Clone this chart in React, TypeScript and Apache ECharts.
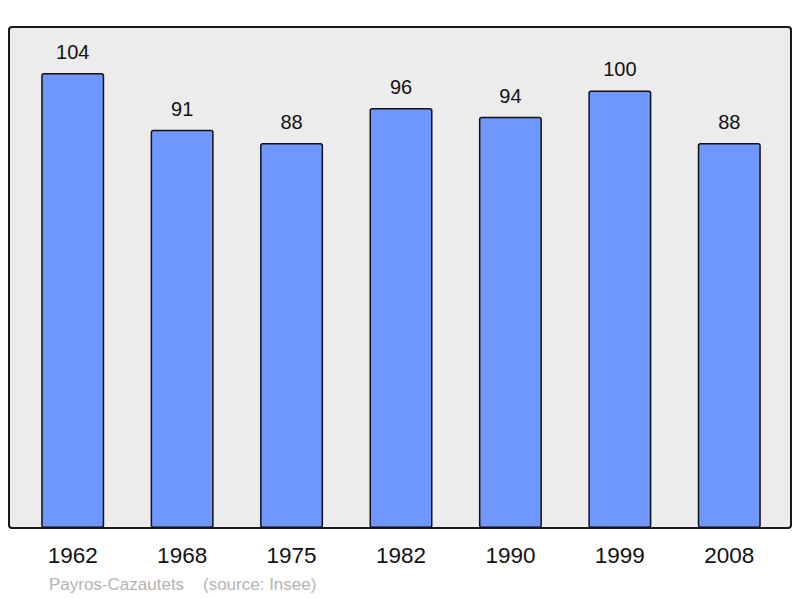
import React, { useEffect, useRef } from "react";
import * as echarts from "echarts";

const years = ["1962", "1968", "1975", "1982", "1990", "1999", "2008"];
const population = [104, 91, 88, 96, 94, 100, 88];
const footerText = "Payros-Cazautets    (source: Insee)";

export default function App() {
  const ref = useRef<HTMLDivElement>(null);
  useEffect(() => {
    if (!ref.current) return;
    const chart = echarts.init(ref.current, null, { renderer: "svg" });
    chart.setOption({
      animation: false,
      backgroundColor: "#ffffff",
      grid: { left: 18, right: 16, top: 27, bottom: 70 },
      xAxis: {
        type: "category",
        data: years,
        axisLine: { show: false },
        axisTick: { show: false },
        axisLabel: {
          fontFamily: "Liberation Sans",
          fontSize: 22.5,
          color: "#111",
          margin: 16,
        },
      },
      yAxis: {
        type: "value",
        min: 0,
        max: 114.5,
        show: false,
        splitLine: { show: false },
      },
      graphic: [
        {
          type: "rect",
          z: -10,
          shape: { x: 9, y: 27, width: 782, height: 501, r: 3 },
          style: { fill: "#ececec", stroke: "#1a1a1a", lineWidth: 2 },
        },
        {
          type: "text",
          x: 49,
          y: 584,
          style: {
            text: footerText,
            fontFamily: "Liberation Sans",
            fontSize: 17,
            fill: "#b4b4b4",
            textVerticalAlign: "middle",
          },
        },
      ],
      series: [
        {
          type: "bar",
          data: population,
          barWidth: 63,
          itemStyle: {
            color: "#7096ff",
            borderColor: "#111",
            borderWidth: 1.5,
            borderRadius: 2,
          },
          label: {
            show: true,
            position: "top",
            distance: 11,
            fontFamily: "Liberation Sans",
            fontSize: 20,
            color: "#111",
          },
        },
      ],
    });
    return () => chart.dispose();
  }, []);
  return (
    <div
      ref={ref}
      style={{ position: "fixed", left: 0, top: 0, width: 800, height: 598 }}
    />
  );
}
